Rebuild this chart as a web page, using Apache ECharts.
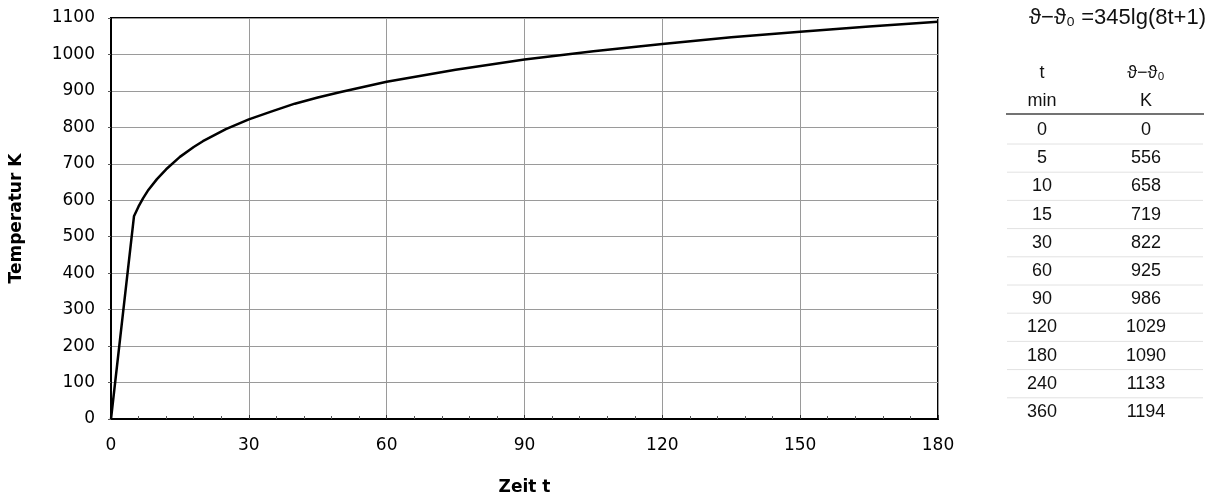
<!DOCTYPE html>
<html>
<head>
<meta charset="utf-8">
<title>Einheitstemperaturkurve</title>
<script src="https://cdn.jsdelivr.net/npm/echarts@6/dist/echarts.min.js"></script>
<style>
  html, body { margin: 0; padding: 0; background: #fff; }
  #chart { width: 1211px; height: 499px; }
</style>
</head>
<body>
<div id="chart"></div>
<script>
// curve points (t in min, temperature in K)
var curveT = [0, 5, 6, 7, 8, 10, 12, 15, 18, 20, 25, 30, 35, 40, 45, 50, 60, 75, 90, 105, 120, 135, 150, 165, 180]
var curveK = [0, 556, 583, 606, 626, 658, 685, 719, 746, 762, 795, 822, 844, 865, 882, 897, 925, 958, 986, 1009, 1029, 1047, 1062, 1077, 1090]

// table on the right
var formulaText = 'ϑ−ϑ₀ =345lg(8t+1)'
var tableHead = [['t', 'ϑ−ϑ₀'], ['min', 'K']]
var tableT = ['0', '5', '10', '15', '30', '60', '90', '120', '180', '240', '360']
var tableK = ['0', '556', '658', '719', '822', '925', '986', '1029', '1090', '1133', '1194']

var xTicks = [0, 30, 60, 90, 120, 150, 180]
var yMax = 1100

var FONT = 'DejaVu Sans, Liberation Sans, Arial, sans-serif'

var chart = echarts.init(document.getElementById('chart'))

// text + lines of the table as graphic elements
function buildTable () {
  var els = []
  var fontBase = { fontFamily: 'Liberation Sans, Arial, sans-serif', fontSize: 18, fill: '#111' }
  var colT = 1042
  var colK = 1146
  els.push({
    type: 'text', x: 1206, y: 18,
    style: Object.assign({}, fontBase, { text: formulaText, fontSize: 22, align: 'right', verticalAlign: 'middle' })
  })
  var headY = [73, 101]
  tableHead.forEach(function (row, i) {
    els.push({ type: 'text', x: colT, y: headY[i], style: Object.assign({}, fontBase, { text: row[0], align: 'center', verticalAlign: 'middle' }) })
    els.push({ type: 'text', x: colK, y: headY[i], style: Object.assign({}, fontBase, { text: row[1], align: 'center', verticalAlign: 'middle' }) })
  })
  els.push({ type: 'line', shape: { x1: 1006, y1: 114, x2: 1204, y2: 114 }, style: { stroke: '#444', lineWidth: 1.5 } })
  var rowH = 28.2
  tableT.forEach(function (t, i) {
    var y = 130 + i * rowH
    els.push({ type: 'text', x: colT, y: y, style: Object.assign({}, fontBase, { text: t, align: 'center', verticalAlign: 'middle' }) })
    els.push({ type: 'text', x: colK, y: y, style: Object.assign({}, fontBase, { text: tableK[i], align: 'center', verticalAlign: 'middle' }) })
    if (i < tableT.length - 1) {
      els.push({ type: 'line', shape: { x1: 1007, y1: y + 14, x2: 1203, y2: y + 14 }, style: { stroke: '#e2e2e2', lineWidth: 1 } })
    }
  })
  return els
}

chart.setOption({
  animation: false,
  backgroundColor: '#fff',
  textStyle: { fontFamily: FONT },
  grid: {
    left: 111,
    top: 18,
    right: 273,
    bottom: 80,
    outerBoundsMode: 'none',
    containLabel: false,
    show: true,
    borderColor: '#000',
    borderWidth: 2
  },
  xAxis: {
    type: 'value',
    min: xTicks[0],
    max: xTicks[xTicks.length - 1],
    interval: 30,
    name: 'Zeit t',
    nameLocation: 'middle',
    nameGap: 60,
    nameTextStyle: { fontSize: 17, fontWeight: 'bold', color: '#000', fontFamily: FONT },
    axisLine: { lineStyle: { color: '#000', width: 2 } },
    axisTick: { show: true, inside: true, length: 4, lineStyle: { color: '#333' } },
    minorTick: { show: true, splitNumber: 5, length: 3, lineStyle: { color: '#555' } },
    axisLabel: { fontSize: 17, color: '#000', margin: 18, fontFamily: FONT },
    splitLine: { show: true, lineStyle: { color: '#9a9a9a', width: 1 } }
  },
  yAxis: {
    type: 'value',
    min: 0,
    max: yMax,
    interval: 100,
    name: 'Temperatur K',
    nameLocation: 'middle',
    nameGap: 86,
    nameRotate: 90,
    nameTextStyle: { fontSize: 17, fontWeight: 'bold', color: '#000', fontFamily: FONT },
    axisLine: { lineStyle: { color: '#000', width: 2 } },
    axisTick: { show: true, length: 3, lineStyle: { color: '#555' } },
    axisLabel: { fontSize: 17, color: '#000', margin: 16, fontFamily: FONT, formatter: function (v) { return String(v) } },
    splitLine: { show: true, lineStyle: { color: '#9a9a9a', width: 1 } }
  },
  series: [
    {
      type: 'line',
      data: curveT.map(function (t, i) { return [t, curveK[i]] }),
      showSymbol: false,
      smooth: false,
      lineStyle: { color: '#000', width: 2.5, join: 'round' },
      itemStyle: { color: '#000' }
    }
  ],
  graphic: buildTable()
})
</script>
</body>
</html>
